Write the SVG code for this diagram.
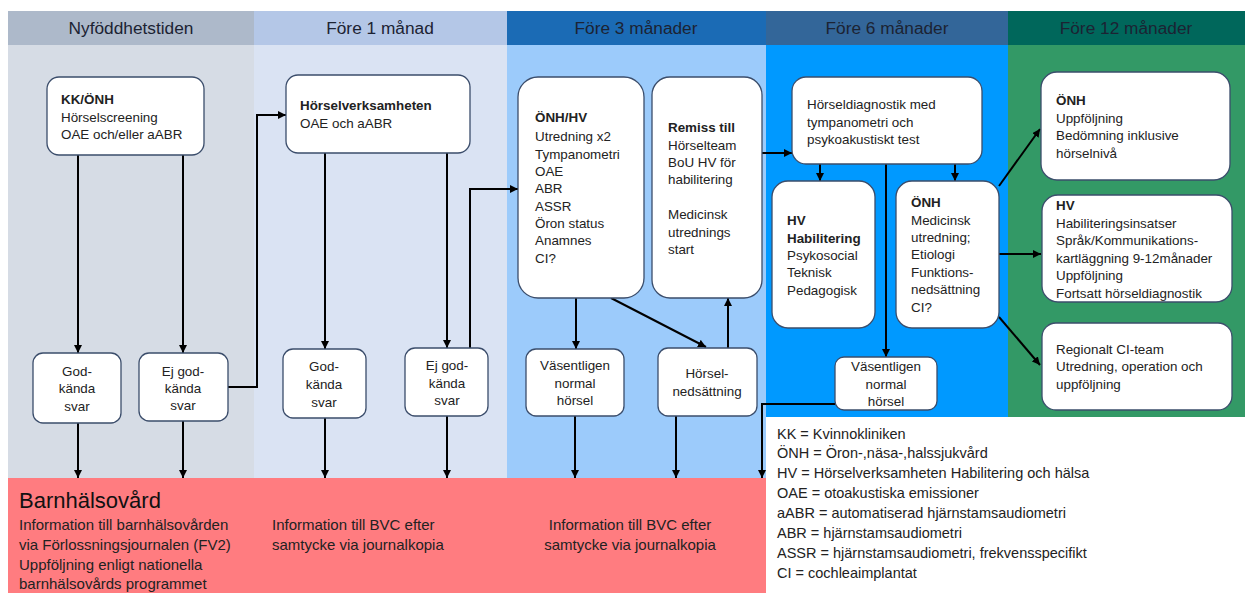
<svg xmlns="http://www.w3.org/2000/svg" width="1245" height="593" viewBox="0 0 1245 593">
<defs>
<marker id="ah" viewBox="0 0 10 10" refX="10" refY="5" markerWidth="8" markerHeight="8" markerUnits="userSpaceOnUse" orient="auto">
<path d="M0,0 L10,5 L0,10 z" fill="#000"/>
</marker>
<style>
text{font-family:"Liberation Sans",Arial,sans-serif;}
.hd{font-size:17.3px;fill:#1c2333;text-anchor:middle;}
.bx{fill:#fff;stroke:#3b4d6b;stroke-width:1.3;}
.t{font-size:13.4px;fill:#222;}
.b{font-weight:bold;}
.c{text-anchor:middle;}
.pk{font-size:15px;fill:#222;}
.lg{font-size:14.5px;fill:#222;}
.cn{fill:none;stroke:#000;stroke-width:2;}
.ar{marker-end:url(#ah);}
</style>
</defs>
<rect width="1245" height="593" fill="#fff"/>
<g id="columns">
<rect x="8" y="45" width="246" height="433" fill="#d6dce5"/>
<rect x="254" y="45" width="253" height="433" fill="#dae3f3"/>
<rect x="507" y="45" width="259" height="433" fill="#9ccbfb"/>
<rect x="766" y="45" width="242" height="372" fill="#0099ff"/>
<rect x="1008" y="45" width="237" height="372" fill="#339966"/>
<rect x="8" y="11" width="246" height="34" fill="#adb9ca"/>
<rect x="254" y="11" width="253" height="34" fill="#b4c7e7"/>
<rect x="507" y="11" width="259" height="34" fill="#1b6bb5"/>
<rect x="766" y="11" width="242" height="34" fill="#336699"/>
<rect x="1008" y="11" width="237" height="34" fill="#00675b"/>
<text class="hd" x="131" y="34">Nyföddhetstiden</text>
<text class="hd" x="380" y="34">Före 1 månad</text>
<text class="hd" x="636" y="34">Före 3 månader</text>
<text class="hd" x="887" y="34">Före 6 månader</text>
<text class="hd" x="1126" y="34">Före 12 månader</text>
</g>
<g id="barnhalsovard">
<rect x="8" y="478" width="758" height="115" fill="#ff7c80"/>
<text x="19" y="508" style="font-size:22px;fill:#111">Barnhälsovård</text>
<text class="pk" x="19" y="530">Information till barnhälsovården</text>
<text class="pk" x="19" y="550">via Förlossningsjournalen (FV2)</text>
<text class="pk" x="19" y="570">Uppföljning enligt nationella</text>
<text class="pk" x="19" y="589">barnhälsovårds programmet</text>
<text class="pk" x="272" y="530">Information till BVC efter</text>
<text class="pk" x="272" y="550">samtycke via journalkopia</text>
<text class="pk c" x="630" y="530">Information till BVC efter</text>
<text class="pk c" x="630" y="550">samtycke via journalkopia</text>
</g>
<g id="connectors">
<line class="cn ar" x1="78" y1="155" x2="78" y2="353"/>
<line class="cn ar" x1="183" y1="155" x2="183" y2="353"/>
<line class="cn ar" x1="78" y1="423" x2="78" y2="478"/>
<line class="cn ar" x1="183" y1="421" x2="183" y2="478"/>
<polyline class="cn ar" points="228,387 257,387 257,115 286,115"/>
<line class="cn ar" x1="325" y1="153" x2="325" y2="349"/>
<line class="cn ar" x1="447" y1="153" x2="447" y2="348"/>
<line class="cn ar" x1="325" y1="418" x2="325" y2="478"/>
<line class="cn ar" x1="447" y1="416" x2="447" y2="478"/>
<polyline class="cn ar" points="470,348 470,189 518,189"/>
<line class="cn ar" x1="576" y1="298" x2="576" y2="349"/>
<line class="cn ar" x1="611" y1="298" x2="706" y2="347"/>
<line class="cn ar" x1="728" y1="348" x2="728" y2="298"/>
<line class="cn ar" x1="575" y1="416" x2="575" y2="478"/>
<line class="cn ar" x1="676" y1="416" x2="676" y2="478"/>
<line class="cn ar" x1="762" y1="153" x2="792" y2="153"/>
<line class="cn ar" x1="820" y1="164" x2="820" y2="181"/>
<line class="cn ar" x1="955" y1="164" x2="955" y2="181"/>
<line class="cn ar" x1="886" y1="164" x2="886" y2="357"/>
<polyline class="cn ar" points="835,404 762,404 762,478"/>
<line class="cn ar" x1="999" y1="186" x2="1040" y2="129"/>
<line class="cn ar" x1="999" y1="254" x2="1041" y2="254"/>
<line class="cn ar" x1="999" y1="317" x2="1040" y2="365"/>
</g>
<g id="kk-onh">
<rect class="bx" x="47" y="77" width="157" height="78" rx="12"/>
<text class="t b" x="61" y="104">KK/ÖNH</text>
<text class="t" x="61" y="122">Hörselscreening</text>
<text class="t" x="61" y="139">OAE och/eller aABR</text>
</g>
<g id="godkanda1">
<rect class="bx" x="33" y="353" width="88" height="70" rx="10"/>
<text class="t c" x="77" y="376">God-</text>
<text class="t c" x="77" y="393">kända</text>
<text class="t c" x="77" y="411">svar</text>
</g>
<g id="ejgodkanda1">
<rect class="bx" x="139" y="353" width="89" height="68" rx="10"/>
<text class="t c" x="183" y="376">Ej god-</text>
<text class="t c" x="183" y="393">kända</text>
<text class="t c" x="183" y="410">svar</text>
</g>
<g id="horselverksamheten">
<rect class="bx" x="286" y="75" width="184" height="78" rx="12"/>
<text class="t b" x="300" y="110">Hörselverksamheten</text>
<text class="t" x="300" y="128">OAE och aABR</text>
</g>
<g id="godkanda2">
<rect class="bx" x="283" y="349" width="83" height="69" rx="10"/>
<text class="t c" x="324" y="371">God-</text>
<text class="t c" x="324" y="389">kända</text>
<text class="t c" x="324" y="407">svar</text>
</g>
<g id="ejgodkanda2">
<rect class="bx" x="405" y="348" width="83" height="68" rx="10"/>
<text class="t c" x="447" y="370">Ej god-</text>
<text class="t c" x="447" y="388">kända</text>
<text class="t c" x="447" y="405">svar</text>
</g>
<g id="onh-hv">
<rect class="bx" x="518" y="77" width="126" height="221" rx="20"/>
<text class="t b" x="535" y="122">ÖNH/HV</text>
<text class="t" x="535" y="141">Utredning x2</text>
<text class="t" x="535" y="159">Tympanometri</text>
<text class="t" x="535" y="176">OAE</text>
<text class="t" x="535" y="193">ABR</text>
<text class="t" x="535" y="211">ASSR</text>
<text class="t" x="535" y="228">Öron status</text>
<text class="t" x="535" y="245">Anamnes</text>
<text class="t" x="535" y="263">CI?</text>
</g>
<g id="remiss">
<rect class="bx" x="652" y="77" width="110" height="221" rx="18"/>
<text class="t b" x="668" y="132">Remiss till</text>
<text class="t" x="668" y="150">Hörselteam</text>
<text class="t" x="668" y="167">BoU HV för</text>
<text class="t" x="668" y="184">habilitering</text>
<text class="t" x="668" y="219">Medicinsk</text>
<text class="t" x="668" y="237">utrednings</text>
<text class="t" x="668" y="254">start</text>
</g>
<g id="vasentligen1">
<rect class="bx" x="526" y="349" width="98" height="67" rx="10"/>
<text class="t c" x="575" y="370">Väsentligen</text>
<text class="t c" x="575" y="388">normal</text>
<text class="t c" x="575" y="405">hörsel</text>
</g>
<g id="horselnedsattning">
<rect class="bx" x="658" y="348" width="99" height="68" rx="10"/>
<text class="t c" x="707" y="378">Hörsel-</text>
<text class="t c" x="707" y="396">nedsättning</text>
</g>
<g id="horseldiagnostik">
<rect class="bx" x="792" y="77" width="190" height="87" rx="14"/>
<text class="t" x="807" y="109">Hörseldiagnostik med</text>
<text class="t" x="807" y="127">tympanometri och</text>
<text class="t" x="807" y="144">psykoakustiskt test</text>
</g>
<g id="hv-habilitering">
<rect class="bx" x="772" y="181" width="103" height="147" rx="16"/>
<text class="t b" x="787" y="225">HV</text>
<text class="t b" x="787" y="243">Habilitering</text>
<text class="t" x="787" y="260">Psykosocial</text>
<text class="t" x="787" y="277">Teknisk</text>
<text class="t" x="787" y="295">Pedagogisk</text>
</g>
<g id="onh-6">
<rect class="bx" x="896" y="181" width="103" height="147" rx="16"/>
<text class="t b" x="911" y="207">ÖNH</text>
<text class="t" x="911" y="225">Medicinsk</text>
<text class="t" x="911" y="242">utredning;</text>
<text class="t" x="911" y="259">Etiologi</text>
<text class="t" x="911" y="277">Funktions-</text>
<text class="t" x="911" y="294">nedsättning</text>
<text class="t" x="911" y="312">CI?</text>
</g>
<g id="vasentligen2">
<rect class="bx" x="835" y="357" width="102" height="53" rx="9"/>
<text class="t c" x="886" y="371">Väsentligen</text>
<text class="t c" x="886" y="389">normal</text>
<text class="t c" x="886" y="406">hörsel</text>
</g>
<g id="onh-12">
<rect class="bx" x="1041" y="72" width="189" height="108" rx="16"/>
<text class="t b" x="1056" y="105">ÖNH</text>
<text class="t" x="1056" y="123">Uppföljning</text>
<text class="t" x="1056" y="140">Bedömning inklusive</text>
<text class="t" x="1056" y="158">hörselnivå</text>
</g>
<g id="hv-12">
<rect class="bx" x="1042" y="195" width="190" height="107" rx="16"/>
<text class="t b" x="1056" y="210">HV</text>
<text class="t" x="1056" y="228">Habiliteringsinsatser</text>
<text class="t" x="1056" y="245">Språk/Kommunikations-</text>
<text class="t" x="1056" y="263">kartläggning 9-12månader</text>
<text class="t" x="1056" y="280">Uppföljning</text>
<text class="t" x="1056" y="298">Fortsatt hörseldiagnostik</text>
</g>
<g id="ci-team">
<rect class="bx" x="1042" y="323" width="190" height="87" rx="14"/>
<text class="t" x="1056" y="354">Regionalt CI-team</text>
<text class="t" x="1056" y="371">Utredning, operation och</text>
<text class="t" x="1056" y="389">uppföljning</text>
</g>
<g id="legend">
<text class="lg" x="777" y="439">KK = Kvinnokliniken</text>
<text class="lg" x="777" y="458">ÖNH = Öron-,näsa-,halssjukvård</text>
<text class="lg" x="777" y="478">HV = Hörselverksamheten Habilitering och hälsa</text>
<text class="lg" x="777" y="498">OAE = otoakustiska emissioner</text>
<text class="lg" x="777" y="518">aABR = automatiserad hjärnstamsaudiometri</text>
<text class="lg" x="777" y="538">ABR = hjärnstamsaudiometri</text>
<text class="lg" x="777" y="558">ASSR = hjärnstamsaudiometri, frekvensspecifikt</text>
<text class="lg" x="777" y="578">CI = cochleaimplantat</text>
</g>
</svg>
